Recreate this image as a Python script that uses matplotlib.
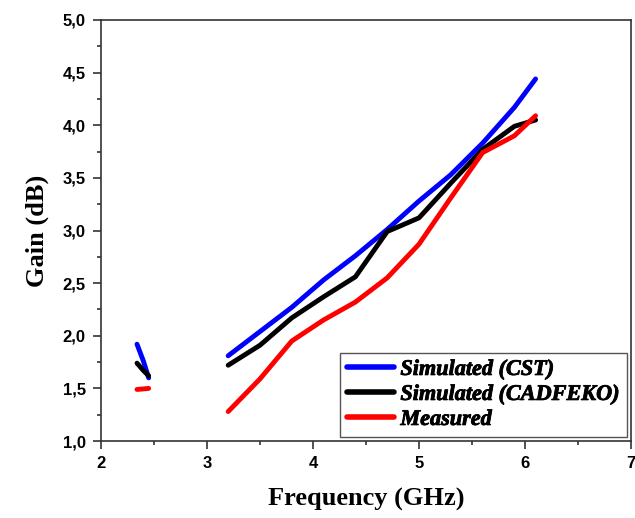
import matplotlib
matplotlib.use("Agg")
import matplotlib.pyplot as plt
import matplotlib.patheffects as pe
import numpy as np
from matplotlib.ticker import FuncFormatter, MultipleLocator
from matplotlib.font_manager import FontProperties

# frequency points (GHz); NaN splits the low band from the upper band
freq = [2.34, 2.40, 2.45, np.nan, 3.2, 3.5, 3.8, 4.1, 4.4, 4.7, 5.0, 5.3, 5.6, 5.9, 6.1]

gain_cst = [1.92, 1.76, 1.60, np.nan, 1.81, 2.04, 2.27, 2.53, 2.76, 3.01, 3.28, 3.53, 3.83, 4.17, 4.44]
gain_feko = [1.74, 1.67, 1.62, np.nan, 1.72, 1.91, 2.17, 2.37, 2.56, 2.99, 3.12, 3.45, 3.77, 3.99, 4.05]
gain_meas = [1.49, 1.495, 1.50, np.nan, 1.28, 1.59, 1.95, 2.15, 2.32, 2.55, 2.87, 3.31, 3.74, 3.90, 4.09]

labels = ["Simulated (CST)", "Simulated (CADFEKO)", "Measured"]
colors = ["#0000ff", "#000000", "#ff0000"]

fig = plt.figure(figsize=(6.35, 5.18), dpi=100)
ax = fig.add_axes([0.159, 0.1486, 0.8347, 0.8128])

for g, lab, c in zip([gain_cst, gain_feko, gain_meas], labels, colors):
    ax.plot(freq, g, color=c, lw=3.5, label=lab, solid_capstyle="round")

ax.set_xlim(2, 7)
ax.set_ylim(1.0, 5.0)
ax.xaxis.set_major_locator(MultipleLocator(1))
ax.xaxis.set_minor_locator(MultipleLocator(0.5))
ax.yaxis.set_major_locator(MultipleLocator(0.5))
ax.yaxis.set_minor_locator(MultipleLocator(0.25))
ax.yaxis.set_major_formatter(FuncFormatter(lambda v, p: f"{v:.1f}".replace(".", ",")))
ax.xaxis.set_major_formatter(FuncFormatter(lambda v, p: f"{v:.0f}"))

ax.tick_params(which="both", direction="out", top=False, right=False, width=1.2, color="#333333")
ax.tick_params(which="major", length=6, pad=5)
ax.tick_params(which="minor", length=3)
for lbl in ax.get_xticklabels() + ax.get_yticklabels():
    lbl.set_family("Liberation Sans")
    lbl.set_fontweight("bold")
    lbl.set_fontsize(12)
for s in ax.spines.values():
    s.set_linewidth(1.2)
    s.set_color("#333333")

ax.set_xlabel("Frequency (GHz)", family="Liberation Serif", fontweight="bold", fontsize=19, labelpad=12)
ax.set_ylabel("Gain (dB)", family="Liberation Serif", fontweight="bold", fontsize=19, labelpad=10)

legfont = FontProperties(family="Liberation Serif", weight="bold", style="italic", size=16)
leg = ax.legend(loc="lower right", bbox_to_anchor=(1.0, 0.0), borderaxespad=0.2, prop=legfont,
                handlelength=2.1, handletextpad=0.3, labelspacing=0.2, borderpad=0.3,
                fancybox=False, framealpha=1)
leg.get_frame().set_edgecolor("#555555")
leg.get_frame().set_linewidth(1.0)
# the serif italic renders light here, so thicken it a little
for t in leg.get_texts():
    t.set_path_effects([pe.withStroke(linewidth=0.6, foreground="black")])
for h in leg.get_lines():
    h.set_linewidth(4)

fig.savefig("out.png", dpi=100)
